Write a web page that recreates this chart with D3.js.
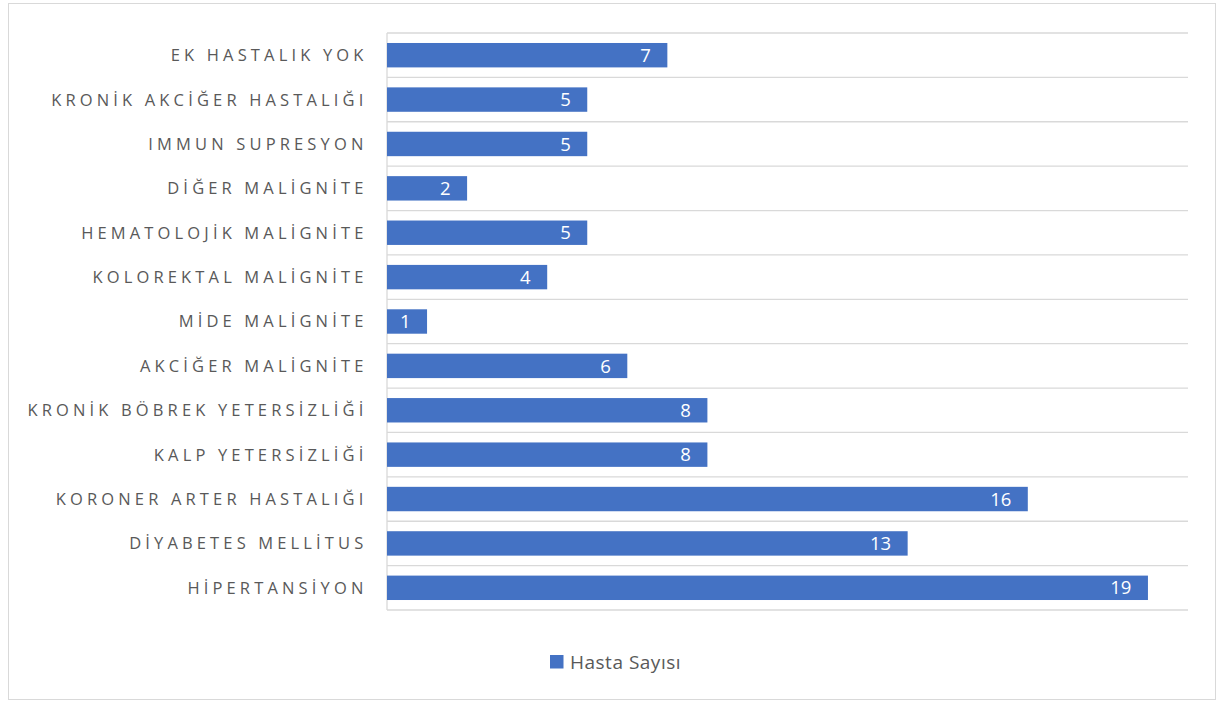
<!DOCTYPE html>
<html>
<head>
<meta charset="utf-8">
<script src="https://cdn.jsdelivr.net/npm/d3@7"></script>
<style>
  body { margin: 0; background: #fff; }
  text { font-family: "Open Sans", "Noto Sans", sans-serif; }
</style>
</head>
<body>
<div class="chart"></div>
<script>
var w = 1218,
  h = 702,
  margin = { top: 33, right: 30, bottom: 92, left: 387 };

// categories top to bottom, as in the picture
var categories = [
  'EK HASTALIK YOK',
  'KRONİK AKCİĞER HASTALIĞI',
  'IMMUN SUPRESYON',
  'DİĞER MALİGNİTE',
  'HEMATOLOJİK MALİGNİTE',
  'KOLOREKTAL MALİGNİTE',
  'MİDE MALİGNİTE',
  'AKCİĞER MALİGNİTE',
  'KRONİK BÖBREK YETERSİZLİĞİ',
  'KALP YETERSİZLİĞİ',
  'KORONER ARTER HASTALIĞI',
  'DİYABETES MELLİTUS',
  'HİPERTANSİYON'
];
var values = [7, 5, 5, 2, 5, 4, 1, 6, 8, 8, 16, 13, 19];
var seriesName = 'Hasta Sayısı';

var svg = d3.select('.chart')
  .append('svg')
  .attr('width', w)
  .attr('height', h);

// outer chart border
svg.append('rect')
  .attr('x', 8.5).attr('y', 3.5)
  .attr('width', 1207).attr('height', 696)
  .attr('fill', 'none')
  .attr('stroke', '#d9d9d9');

var x = d3.scaleLinear()
  .domain([0, 20])
  .range([margin.left, w - margin.right]);

var y = d3.scaleBand()
  .domain(categories)
  .range([margin.top, h - margin.bottom])
  .paddingInner(0.45)
  .paddingOuter(0.225);

// category boundary gridlines
var step = y.step();
var bounds = d3.range(categories.length + 1).map(function (i) {
  return margin.top + i * step;
});
svg.selectAll('line.grid')
  .data(bounds)
  .enter()
  .append('line')
  .attr('class', 'grid')
  .attr('x1', x(0)).attr('x2', x(20))
  .attr('y1', function (d) { return d; })
  .attr('y2', function (d) { return d; })
  .attr('stroke', '#d9d9d9')
  .attr('stroke-width', 1.3);

// left axis line
svg.append('line')
  .attr('x1', x(0)).attr('x2', x(0))
  .attr('y1', margin.top).attr('y2', h - margin.bottom)
  .attr('stroke', '#d9d9d9')
  .attr('stroke-width', 1.3);

// bars
svg.selectAll('rect.bar')
  .data(values)
  .enter()
  .append('rect')
  .attr('class', 'bar')
  .attr('x', x(0))
  .attr('y', function (d, i) { return y(categories[i]); })
  .attr('width', function (d) { return x(d) - x(0); })
  .attr('height', y.bandwidth())
  .attr('fill', '#4472c4');

// value labels inside bar end
svg.selectAll('text.val')
  .data(values)
  .enter()
  .append('text')
  .attr('class', 'val')
  .attr('x', function (d) { return x(d) - 16.5; })
  .attr('y', function (d, i) { return y(categories[i]) + y.bandwidth() / 2; })
  .attr('dy', '0.36em')
  .attr('text-anchor', 'end')
  .attr('font-size', '18.5px')
  .attr('fill', '#fff')
  .text(function (d) { return d; });

// category labels (letter-spaced)
svg.selectAll('text.cat')
  .data(categories)
  .enter()
  .append('text')
  .attr('class', 'cat')
  .attr('x', 367.5)
  .attr('y', function (d) { return y(d) + y.bandwidth() / 2; })
  .attr('dy', '0.36em')
  .attr('text-anchor', 'end')
  .attr('font-size', '16.5px')
  .attr('letter-spacing', '4.15px')
  .attr('fill', '#595959')
  .text(function (d) { return d; });

// legend
var legend = svg.append('g')
  .attr('transform', 'translate(550,655)');
legend.append('rect')
  .attr('width', 13.5).attr('height', 13.5)
  .attr('fill', '#4472c4');
legend.append('text')
  .attr('x', 20).attr('y', 7)
  .attr('dy', '0.36em')
  .attr('font-size', '19px')
  .attr('letter-spacing', '0.5px')
  .attr('fill', '#595959')
  .text(seriesName);
</script>
</body>
</html>
